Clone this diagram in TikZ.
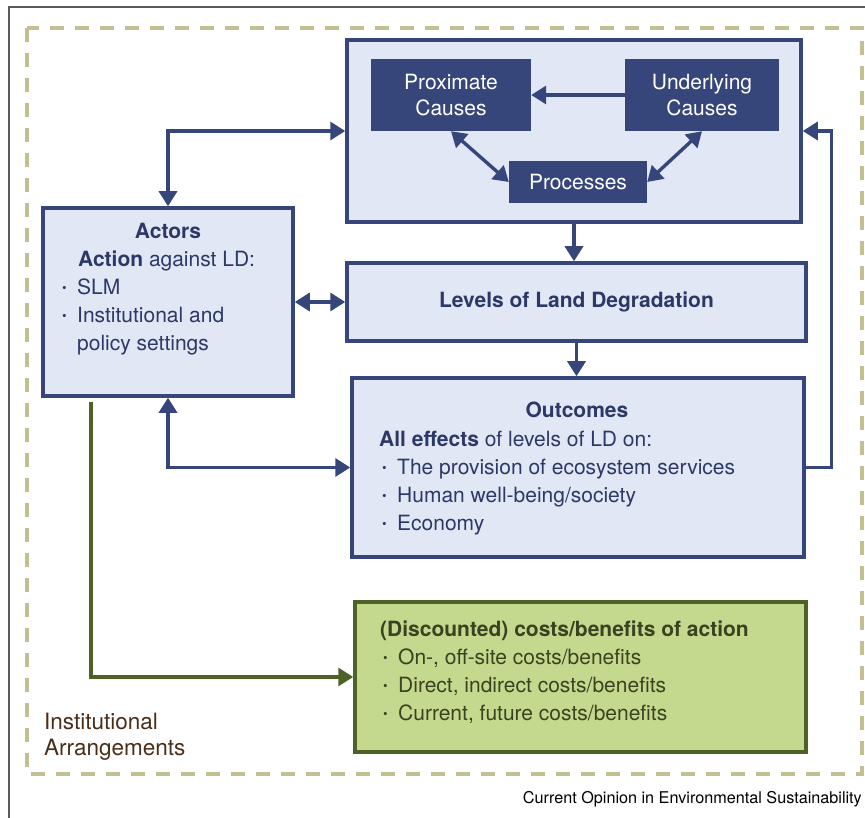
\documentclass[tikz,border=0pt]{standalone}
\usepackage{fontspec}
\setmainfont{TeX Gyre Heros}
\usetikzlibrary{arrows.meta}

\definecolor{navy}{RGB}{54,70,122}
\definecolor{navytext}{RGB}{44,56,102}
\definecolor{lightblue}{RGB}{226,231,246}
\definecolor{olive}{RGB}{78,98,40}
\definecolor{lightgreen}{RGB}{197,217,142}
\definecolor{olivetext}{RGB}{58,66,32}
\definecolor{khaki}{RGB}{194,192,146}
\definecolor{brownish}{RGB}{74,46,24}

\newcommand\bodyfont{\fontsize{21}{28}\selectfont}
\newcommand\bul{\makebox[15pt][l]{\raisebox{2.5pt}{\fontsize{13}{13}\selectfont\textbullet}}}

\tikzset{
	lightbox/.style={draw=navy, fill=lightblue, line width=3.5pt, inner sep=0pt},
	darkbox/.style={fill=navy, text=white, align=center, inner sep=0pt, font=\fontsize{21}{26}\selectfont},
	greenbox/.style={draw=olive, fill=lightgreen, line width=3.5pt, inner sep=0pt},
	txt/.style={anchor=north west, inner sep=0pt, align=left, font=\bodyfont, text=navytext},
	tip/.tip={Triangle[width=18pt,length=15pt]},
	link/.style={draw=navy, line width=3.4pt, -tip},
	twolink/.style={draw=navy, line width=3.4pt, tip-tip},
}

\begin{document}
\begin{tikzpicture}[x=1pt,y=-1pt]
	\useasboundingbox (0,0) rectangle (865,818);
	\draw[black!65, line width=1.3pt] (9,818) -- (9,7) -- (865,7); %page frame
	\draw[khaki, line width=3.5pt, dash pattern=on 14pt off 11pt] (27,28) rectangle (862,774); %institutional arrangements

	\node[lightbox, minimum width=454pt, minimum height=182pt] (causes) at (574,131) {}; %causes frame
	\node[darkbox, minimum width=160pt, minimum height=72pt] (prox) at (451,95) {Proximate\\Causes};
	\node[darkbox, minimum width=154pt, minimum height=72pt] (under) at (702,95) {Underlying\\Causes};
	\node[darkbox, minimum width=138pt, minimum height=42pt] (proc) at (578,182) {Processes};

	\node[lightbox, minimum width=250pt, minimum height=188pt] (actors) at (168,302) {}; %actors
	\node[lightbox, minimum width=459pt, minimum height=78pt, font=\bodyfont\bfseries, text=navytext] (levels) at (576.5,302) {Levels of Land Degradation};
	\node[lightbox, minimum width=452pt, minimum height=179pt] (outcomes) at (578,467.5) {}; %outcomes
	\node[greenbox, minimum width=451pt, minimum height=150pt] (costs) at (580.5,677) {}; %costs/benefits

	\node[txt, anchor=base, font=\bodyfont\bfseries] (actorstitle) at (168,239) {Actors};
	\node[txt] (actorstext) at (62,251) {\hspace*{16pt}\textbf{Action} against LD:\\
		\bul SLM\\
		\bul Institutional and\\
		\hspace*{15pt}policy settings};

	\node[txt, anchor=base, font=\bodyfont\bfseries] (outtitle) at (577,417) {Outcomes};
	\node[txt] (outtext) at (379,431) {\textbf{All effects} of levels of LD on:\\
		\hspace*{3pt}\bul The provision of ecosystem services\\
		\hspace*{3pt}\bul Human well-being/society\\
		\hspace*{3pt}\bul Economy};

	\node[txt, text=olivetext] (coststext) at (380,621) {\textbf{(Discounted) costs/benefits of action}\\
		\hspace*{3pt}\bul On-, off-site costs/benefits\\
		\hspace*{3pt}\bul Direct, indirect costs/benefits\\
		\hspace*{3pt}\bul Current, future costs/benefits};

	\node[txt, text=brownish, font=\fontsize{22.5}{26}\selectfont] (inst) at (44,713) {Institutional\\Arrangements};
	\node[anchor=base east, inner sep=0pt, font=\fontsize{16.2}{18}\selectfont] (source) at (862,803) {Current Opinion in Environmental Sustainability};

	\draw[link] (under.west) -- (prox.east);
	\draw[twolink] (prox.south) -- (proc.west);
	\draw[twolink] (under.south) -- (proc.east);
	\draw[twolink] (actors.north) |- (causes.west);
	\draw[twolink] (actors.east) -- (levels.west);
	\draw[twolink] (actors.south) |- (outcomes.west);
	\draw[link] (causes.south) -- (causes.south |- levels.north);
	\draw[link] (levels.south) -- (levels.south |- outcomes.north);
	\draw[link] (outcomes.east) -- ++(26,0) |- (causes.east);
	\draw[olive, line width=3.2pt, -{Triangle[width=18pt,length=15pt]}] ([xshift=-77pt,yshift=-4pt]actors.south) |- (costs.west);
\end{tikzpicture}
\end{document}
